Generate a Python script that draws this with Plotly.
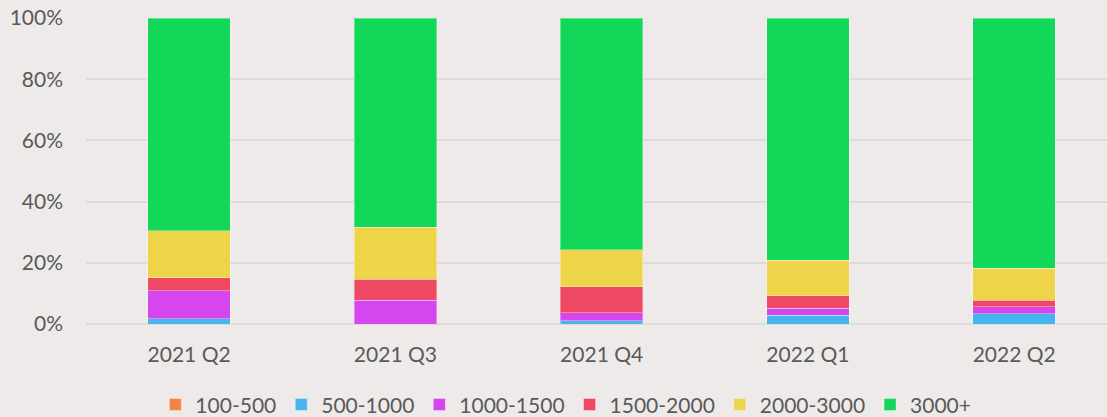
import plotly.graph_objects as go

categories = ["2021 Q2", "2021 Q3", "2021 Q4", "2022 Q1", "2022 Q2"]
series_names = ["100-500", "500-1000", "1000-1500", "1500-2000", "2000-3000", "3000+"]
s_100_500 = [0.0, 0.0, 0.0, 0.0, 0.0]
s_500_1000 = [1.7, 0.0, 1.0, 2.9, 3.4]
s_1000_1500 = [9.1, 7.7, 2.6, 2.2, 2.3]
s_1500_2000 = [4.3, 7.0, 8.5, 4.1, 2.1]
s_2000_3000 = [15.4, 16.9, 12.1, 11.6, 10.5]
s_3000_plus = [69.5, 68.4, 75.8, 79.2, 81.7]
colors = ["#F4834A", "#45B5EE", "#D546EE", "#EF4862", "#EED448", "#13D758"]

all_series = [s_100_500, s_500_1000, s_1000_1500, s_1500_2000, s_2000_3000, s_3000_plus]

fig = go.Figure()
for name, vals, c in zip(series_names, all_series, colors):
    fig.add_trace(go.Bar(
        x=categories, y=[v / 100 for v in vals], name=name,
        marker=dict(color=c, line=dict(color="rgba(255,255,255,0.35)", width=1)),
        width=0.4,
    ))

font_family = "Lato, Open Sans, sans-serif"
fig.update_layout(
    barmode="stack",
    width=1107, height=417,
    margin=dict(l=86, r=0, t=18, b=93, autoexpand=False),
    paper_bgcolor="#EEEAE9", plot_bgcolor="#EEEAE9",
    font=dict(family=font_family, size=21, color="#595959"),
    xaxis=dict(range=[-0.5, 4.45], showgrid=False, zeroline=False, showline=False,
               ticks="", automargin=False, ticklabelstandoff=16,
               tickfont=dict(size=21, color="#595959")),
    yaxis=dict(range=[0, 1], tickformat=".0%", dtick=0.2, showgrid=True,
               gridcolor="#DEDBDA", gridwidth=2, zeroline=True, zerolinecolor="#DEDBDA",
               zerolinewidth=2, ticks="", automargin=False,
               tickfont=dict(size=21, color="#595959"),
               ticklabelstandoff=22),
    legend=dict(orientation="h", x=0.47, xanchor="center", xref="paper",
                y=-0.264, yanchor="middle", traceorder="normal",
                font=dict(size=21, color="#595959"), itemwidth=30),
    showlegend=True,
)
fig.write_html(
    "out.html",
    config={"displayModeBar": False},
    post_script="document.body.style.margin='0';document.body.style.overflow='hidden';",
)
